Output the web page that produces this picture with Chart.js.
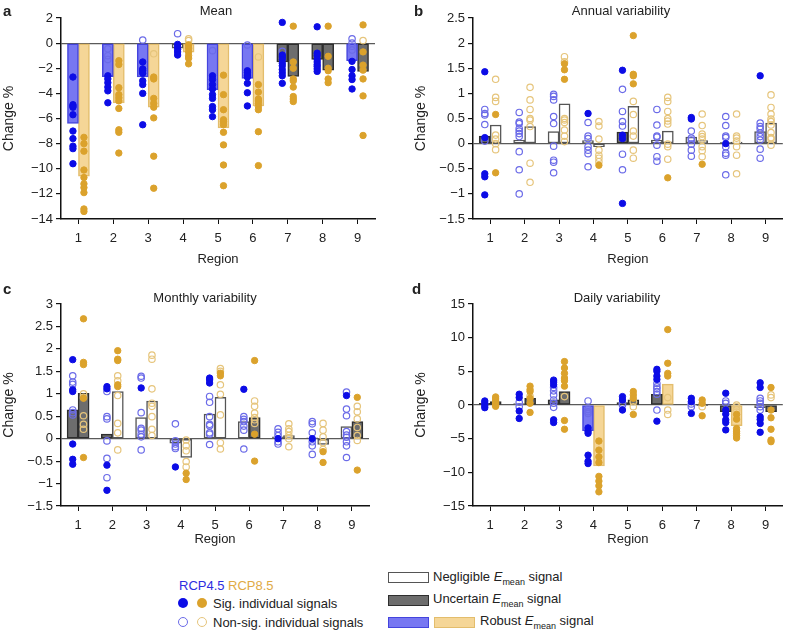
<!DOCTYPE html>
<html>
<head>
<meta charset="utf-8">
<script src="https://cdn.jsdelivr.net/npm/chart.js@4.4.1/dist/chart.umd.min.js"></script>
<style>
  body { margin: 0; background: #fff; font-family: "Liberation Sans", Arial, sans-serif; color: #222; }
  #page { position: relative; width: 788px; height: 633px; overflow: hidden; }
  .panel { position: absolute; }
  .txt { position: absolute; font-size: 13px; white-space: nowrap; transform: translateY(-50%); }
  .ttl { position: absolute; font-size: 13px; white-space: nowrap; transform: translate(-50%, -50%); }
  .letter { position: absolute; font-size: 15px; font-weight: bold; transform: translateY(-50%); }
  .dot { position: absolute; width: 10px; height: 10px; border-radius: 50%; box-sizing: border-box; transform: translate(-50%, -50%); }
  .box { position: absolute; width: 41px; height: 11px; box-sizing: border-box; border: 1.5px solid #555; }
  sub { font-size: 9px; }
</style>
</head>
<body>
<div id="page">
  <div class="panel" style="left:0;top:0;width:394px;height:270px"><canvas id="meanChart"></canvas></div>
  <div class="panel" style="left:394px;top:0;width:394px;height:270px"><canvas id="annualChart"></canvas></div>
  <div class="panel" style="left:0;top:270px;width:394px;height:280px"><canvas id="monthlyChart"></canvas></div>
  <div class="panel" style="left:394px;top:270px;width:394px;height:280px"><canvas id="dailyChart"></canvas></div>

  <div class="letter" style="left:3px;top:10px">a</div>
  <div class="letter" style="left:414px;top:10px">b</div>
  <div class="letter" style="left:3px;top:288px">c</div>
  <div class="letter" style="left:412px;top:288px">d</div>
  <div class="ttl" style="left:216px;top:10px">Mean</div>
  <div class="ttl" style="left:621px;top:10px">Annual variability</div>
  <div class="ttl" style="left:205px;top:297px">Monthly variability</div>
  <div class="ttl" style="left:617px;top:297px">Daily variability</div>

  <div class="txt" style="left:179px;top:585px;color:#2d2de0">RCP4.5</div>
  <div class="txt" style="left:228px;top:585px;color:#e0aa45">RCP8.5</div>
  <div class="dot" style="left:183px;top:603px;background:#0c0ce6"></div>
  <div class="dot" style="left:202px;top:603px;background:#dba22c"></div>
  <div class="txt" style="left:213px;top:603px">Sig. individual signals</div>
  <div class="dot" style="left:183px;top:622px;border:1.3px solid #6b6be8"></div>
  <div class="dot" style="left:202px;top:622px;border:1.3px solid #e6c57c"></div>
  <div class="txt" style="left:213px;top:622px">Non-sig. individual signals</div>

  <div class="box" style="left:388px;top:572px;background:#fff"></div>
  <div class="txt" style="left:433px;top:578px">Negligible <i>E</i><sub>mean</sub> signal</div>
  <div class="box" style="left:388px;top:595px;background:#6d6d6d;border-color:#2e2e2e"></div>
  <div class="txt" style="left:433px;top:600px">Uncertain <i>E</i><sub>mean</sub> signal</div>
  <div class="box" style="left:388px;top:617px;background:#7777f2;border-color:#4444dd"></div>
  <div class="box" style="left:434px;top:617px;background:#f5d697;border-color:#e3bd6c"></div>
  <div class="txt" style="left:480px;top:622px">Robust <i>E</i><sub>mean</sub> signal</div>
</div>

<script>
const regions = ["1", "2", "3", "4", "5", "6", "7", "8", "9"];

// a: mean
const meanBar45 = [-6.4, -2.67, -2.7, -0.4, -3.7, -2.8, -1.5, -1.3, -1.4];
const meanBar85 = [-10.6, -4.75, -5.1, -0.72, -6.75, -5.0, -2.65, -2.15, -2.25];
const meanClass45 = ["R", "R", "R", "N", "R", "R", "U", "U", "R"];
const meanClass85 = ["R", "R", "R", "R", "R", "R", "U", "U", "U"];
const meanSig45 = [
  [-2.7, -4.9, -5.0, -5.1, -5.7, -7.0, -7.6, -8.2, -8.4, -9.6],
  [-2.6, -2.85, -3.15, -3.5, -3.8, -4.75],
  [-1.5, -2.05, -2.2, -2.4, -3.0, -3.3, -4.0, -6.5],
  [-0.1, -0.3, -0.5, -0.7, -0.95],
  [-2.6, -2.9, -3.3, -3.65, -4.1, -4.4, -5.05, -5.3, -5.85],
  [-2.2, -2.35, -2.55, -2.7, -3.2, -3.95, -5.0],
  [1.65, -0.95, -1.1, -1.3, -1.6, -1.8, -2.1, -2.35, -2.6, -3.2],
  [1.3, -0.8, -1.0, -1.3, -1.5, -1.7, -1.85, -2.05, -2.25],
  [-1.45, -2.1, -2.6, -2.9, -3.65],
];
const meanNon45 = [[], [-0.45, -1.0, -1.3], [0.25], [0.75], [-0.6], [-0.15], [-0.65], [], [0.35, 0.0, -0.25, -0.55]];
const meanSig85 = [
  [-7.5, -8.0, -8.6, -10.1, -10.7, -11.2, -11.5, -11.9, -13.2, -13.4],
  [-1.4, -1.7, -3.55, -4.1, -4.35, -4.6, -5.2, -6.9, -7.1, -8.75],
  [-2.7, -2.85, -4.4, -4.8, -5.1, -5.95, -9.0, -11.55],
  [-0.15, -0.4, -0.7, -1.0, -1.2, -1.65],
  [-2.55, -4.1, -5.3, -6.1, -6.25, -6.5, -7.1, -8.1, -9.7, -11.35],
  [-3.3, -3.9, -4.45, -4.6, -4.8, -5.05, -5.3, -7.05, -9.75],
  [1.35, -1.5, -2.0, -2.85, -3.0, -3.5, -4.25, -4.45, -4.65],
  [1.35, -1.05, -2.0, -2.2, -2.85, -3.15],
  [1.45, -0.7, -1.75, -2.15, -2.85, -4.2, -7.35],
];
const meanNon85 = [[], [], [-0.85], [0.35, 0.2], [], [-1.1], [], [], [0.2]];

// b: annual variability
const annualBar45 = [0.15, 0.07, 0.24, 0.06, 0.23, 0.07, 0.13, 0.02, 0.24];
const annualBar85 = [0.37, 0.34, 0.79, -0.06, 0.74, 0.25, 0.06, 0.03, 0.41];
const annualClass45 = ["U", "N", "N", "N", "U", "N", "N", "U", "N"];
const annualClass85 = ["N", "N", "N", "N", "N", "N", "N", "N", "N"];
const annualSig45 = [[1.43, 0.12, -0.6, -0.66, -1.02], [], [], [0.6], [1.46, 0.17, 0.1, -1.19], [], [0.52, 0.49], [0.0], [1.35]];
const annualNon45 = [
  [0.68, 0.6, 0.57, 0.38, 0.05],
  [0.62, 0.43, 0.4, 0.3, 0.25, 0.2, 0.14, -0.16, -0.52, -1.0],
  [0.98, 0.94, 0.87, 0.54, 0.4, -0.05, -0.33, -0.37, -0.58],
  [0.42, 0.15, 0.1, -0.06, -0.13, -0.2, -0.46],
  [1.08, 0.64, 0.44, 0.35, -0.21, -0.52],
  [0.68, 0.37, 0.15, 0.13, -0.03, -0.26, -0.35],
  [0.25, 0.11, 0.07, -0.01, -0.13, -0.25],
  [0.54, 0.36, 0.15, 0.12, -0.06, -0.19, -0.23, -0.62],
  [0.41, 0.34, 0.29, 0.21, 0.14, 0.07, -0.11, -0.29],
];
const annualSig85 = [[0.58, -0.58], [], [1.59, 1.47, 1.28], [-0.43], [2.15, 1.38, 1.35, 1.19], [-0.68], [-0.41], [], []];
const annualNon85 = [
  [1.28, 0.92, 0.84, 0.17, 0.09, 0.0, -0.12],
  [1.12, 0.87, 0.68, 0.5, 0.47, 0.34, -0.39, -0.77],
  [1.73, 1.63, 0.5, 0.47, 0.42, 0.27, 0.15, 0.04],
  [0.44, 0.35, 0.09, -0.13, -0.23, -0.29, -0.36],
  [0.84, 0.58, 0.25, 0.15, -0.13, -0.29],
  [0.92, 0.84, 0.64, 0.5, 0.45, 0.39, -0.01, -0.06, -0.31],
  [0.59, 0.36, 0.19, 0.14, 0.09, -0.06, -0.14, -0.26],
  [0.59, 0.15, 0.11, 0.05, -0.06, -0.23, -0.6],
  [0.97, 0.72, 0.59, 0.49, 0.44, 0.37, 0.22, 0.12, 0.09, -0.03],
];

// c: monthly variability
const monthlyBar45 = [0.64, 0.1, 0.47, -0.1, 0.55, 0.38, 0.04, 0.02, 0.27];
const monthlyBar85 = [1.01, 1.05, 0.84, -0.42, 0.92, 0.47, 0.07, -0.13, 0.38];
const monthlyClass45 = ["U", "U", "N", "N", "N", "N", "N", "N", "N"];
const monthlyClass85 = ["U", "N", "N", "N", "N", "U", "N", "N", "U"];
const monthlySig45 = [[1.76, 1.09, 1.05, -0.12, -0.46, -0.57], [1.16, 1.11, -0.59, -1.15], [1.13], [-0.63], [1.35, 1.31, 1.24], [1.1], [0.0], [0.0], [0.96]];
const monthlyNon45 = [
  [1.4, 1.26, 1.21, 0.64, 0.58, 0.53],
  [1.05, 0.49, 0.44, -0.05, -0.44, -0.87],
  [1.39, 1.35, 0.58, 0.23, 0.19, 0.1, 0.04, -0.25],
  [0.33, -0.05, -0.12, -0.18, -0.22],
  [0.94, 0.81, 0.49, 0.32, 0.29, 0.13, 0.1, -0.13],
  [0.49, 0.43, 0.38, 0.28, 0.19, -0.23],
  [0.22, 0.14, 0.07, -0.07, -0.12],
  [0.38, 0.33, 0.13, -0.07, -0.16, -0.35],
  [1.04, 0.66, 0.51, 0.16, 0.08, 0.03, -0.07, -0.16, -0.42],
];
const monthlySig85 = [[2.67, 1.7, 1.65, 0.9, -0.42], [1.96, 1.77, 1.74, 1.2, 1.16], [], [-0.77, -0.91], [1.46, 1.4], [1.74, 0.1, -0.5], [], [-0.29, -0.53], [0.92, -0.7]];
const monthlyNon85 = [
  [1.0, 0.92, 0.51, 0.32, 0.21],
  [1.4, 1.29, 0.96, 0.34, 0.13, -0.25],
  [1.86, 1.77, 1.11, 0.79, 0.72, 0.49, 0.21, 0.07],
  [-0.03, -0.16, -0.27, -0.51, -0.63],
  [1.56, 1.5, 1.2, 0.99, 0.53, -0.09, -0.23],
  [0.84, 0.72, 0.57, 0.47, 0.42, 0.34],
  [0.33, 0.22, 0.16, 0.07, 0.0, -0.18],
  [0.34, 0.19, 0.04, -0.09, -0.24],
  [0.72, 0.6, 0.44, 0.25, 0.07, -0.04],
];

// d: daily variability
const dailyBar45 = [0.25, 0.2, 0.75, -3.8, 0.35, 1.6, 0.05, -1.0, -0.4];
const dailyBar85 = [0.5, 1.0, 2.0, -9.05, 0.75, 3.1, -0.1, -3.08, -1.0];
const dailyClass45 = ["U", "N", "U", "R", "U", "U", "N", "U", "N"];
const dailyClass85 = ["U", "U", "U", "R", "U", "R", "U", "R", "U"];
const dailySig45 = [
  [0.6, 0.25, -0.1, -0.4],
  [1.6, 1.1, -0.9, -2.0],
  [3.7, 3.4, 3.0, -2.2, -2.6],
  [-3.4, -3.9, -4.2, -7.45, -8.35, -8.7],
  [1.25, 0.75, -0.75],
  [5.3, 5.0, 4.3, 3.8, -2.4],
  [1.0, 0.5, -1.25],
  [1.75, -0.75, -1.35, -2.2, -2.6, -3.7],
  [3.3, 2.6, -1.75, -2.15, -2.75, -4.05],
];
const dailyNon45 = [[], [0.4, -0.25], [2.6, 2.1, 1.5, 0.75, 0.25, -0.35], [0.6, -0.65, -1.0, -1.25], [0.25, 0.0], [3.2, 2.7, 2.4, 2.0, 1.6, -0.75], [0.15, -0.25], [0.6, 0.25], [1.0, 0.6, 0.25, -0.25, -0.75]];
const dailySig85 = [
  [1.2, 0.9, 0.6, 0.3, 0.0, -0.2],
  [2.8, 2.3, 2.0, 1.0, 0.25, -1.1],
  [6.45, 5.5, 4.7, 4.0, 3.6, 2.8, -2.3, -3.6],
  [-5.35, -6.7, -7.7, -8.55, -10.6, -11.3, -12.0, -12.9],
  [2.0, 1.5, 1.0, -1.4],
  [11.2, 6.2, 4.7, 4.3],
  [0.75, 0.25, -1.6],
  [-1.4, -2.1, -3.5, -3.9, -4.2, -4.55, -4.9],
  [2.6, -0.75, -1.9, -3.6, -5.2, -5.45],
];
const dailyNon85 = [[], [1.3], [1.25], [], [0.5, -0.25], [1.1, -0.75, -1.4], [-0.25], [0.0, -0.25, -0.65], [1.5, 1.1]];

const fills45 = { N: "#ffffff", U: "#6d6d6d", R: "#7777f2" };
const lines45 = { N: "#555555", U: "#2e2e2e", R: "#4444dd" };
const fills85 = { N: "#ffffff", U: "#6d6d6d", R: "#f5d697" };
const lines85 = { N: "#555555", U: "#2e2e2e", R: "#e3bd6c" };

// each bar is ~11px in a ~35px region slot; points sit on the bar centres
const barWidth = 11;
const shift = 0.1575;
const font = { family: '"Liberation Sans", Arial, sans-serif', size: 13 };

function toPoints(groups, dx) {
  const pts = [];
  groups.forEach((vals, i) => {
    vals.forEach((v) => pts.push({ x: i + 1 + dx, y: v }));
  });
  return pts;
}

function fmt(v) {
  const r = Math.round(v * 10) / 10;
  return String(r).replace("-", "\u2212");
}

function scatterSet(data, fill, line, width) {
  return {
    type: "scatter", xAxisID: "xp", order: 1, data: data,
    pointRadius: 3.2, pointBackgroundColor: fill, pointBorderColor: line, pointBorderWidth: width,
  };
}

function barSet(data, cls, fills, lines) {
  return {
    type: "bar", xAxisID: "x", order: 2, data: data,
    backgroundColor: cls.map((c) => fills[c]),
    borderColor: cls.map((c) => lines[c]),
    borderWidth: 1.5, borderSkipped: false, barThickness: barWidth,
  };
}

function drawPanel(id, p) {
  new Chart(document.getElementById(id), {
    type: "bar",
    data: {
      labels: regions,
      datasets: [
        scatterSet(toPoints(p.sig45, -shift), "#0c0ce6", "#0c0ce6", 1),
        scatterSet(toPoints(p.non45, -shift), "rgba(0,0,0,0)", "#6b6be8", 1.2),
        scatterSet(toPoints(p.sig85, shift), "#dba22c", "#dba22c", 1),
        scatterSet(toPoints(p.non85, shift), "rgba(0,0,0,0)", "#e6c57c", 1.2),
        barSet(p.bar45, p.cls45, fills45, lines45),
        barSet(p.bar85, p.cls85, fills85, lines85),
      ],
    },
    options: {
      responsive: true,
      maintainAspectRatio: false,
      animation: false,
      layout: { padding: p.pad },
      plugins: { legend: { display: false }, tooltip: { enabled: false } },
      scales: {
        x: {
          type: "category",
          offset: true,
          grid: { offset: false, drawOnChartArea: false, tickLength: 5, color: "#111", tickColor: "#111" },
          border: { color: "#111", width: 1.5 },
          ticks: { color: "#222", font: font, padding: 7 },
          title: { display: true, text: "Region", color: "#222", font: font, padding: { top: 2, bottom: 3 } },
          afterFit: (s) => { s.height = p.xh; },
        },
        xp: { type: "linear", display: false, offset: false, min: 0.5, max: 9.5 },
        y: {
          min: p.min,
          max: p.max,
          ticks: { stepSize: p.step, color: "#222", font: font, padding: 3, callback: fmt },
          grid: {
            color: (ctx) => (ctx.tick && ctx.tick.value === 0 ? "#5a5a5a" : "rgba(0,0,0,0)"),
            tickColor: "#111",
            tickLength: 5,
            lineWidth: 1.2,
          },
          border: { color: "#111", width: 1.5 },
          title: { display: true, text: "Change %", color: "#222", font: { family: font.family, size: 14 }, padding: { top: 1, bottom: 0 } },
          afterFit: (s) => { s.width = 61; },
        },
      },
    },
  });
}

drawPanel("meanChart", {
  bar45: meanBar45, bar85: meanBar85, cls45: meanClass45, cls85: meanClass85,
  sig45: meanSig45, non45: meanNon45, sig85: meanSig85, non85: meanNon85,
  min: -14, max: 2, step: 2, xh: 51, pad: { left: 0, right: 19, top: 18, bottom: 0 },
});
drawPanel("annualChart", {
  bar45: annualBar45, bar85: annualBar85, cls45: annualClass45, cls85: annualClass85,
  sig45: annualSig45, non45: annualNon45, sig85: annualSig85, non85: annualNon85,
  min: -1.5, max: 2.5, step: 0.5, xh: 51, pad: { left: 18, right: 4, top: 18, bottom: 0 },
});
drawPanel("monthlyChart", {
  bar45: monthlyBar45, bar85: monthlyBar85, cls45: monthlyClass45, cls85: monthlyClass85,
  sig45: monthlySig45, non45: monthlyNon45, sig85: monthlySig85, non85: monthlyNon85,
  min: -1.5, max: 3, step: 0.5, xh: 44, pad: { left: 0, right: 25, top: 34, bottom: 0 },
});
drawPanel("dailyChart", {
  bar45: dailyBar45, bar85: dailyBar85, cls45: dailyClass45, cls85: dailyClass85,
  sig45: dailySig45, non45: dailyNon45, sig85: dailySig85, non85: dailyNon85,
  min: -15, max: 15, step: 5, xh: 44, pad: { left: 18, right: 0, top: 34, bottom: 0 },
});
</script>
</body>
</html>
